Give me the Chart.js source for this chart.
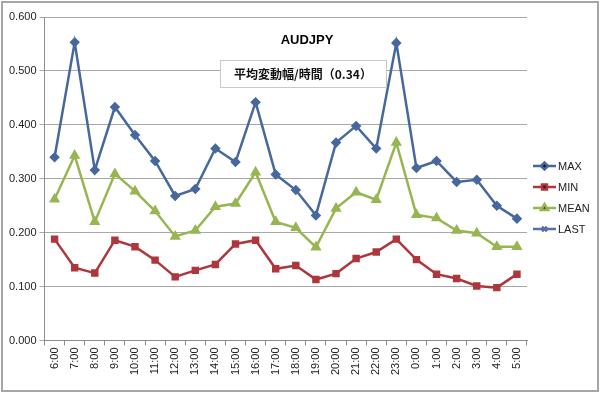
<!DOCTYPE html>
<html>
<head>
<meta charset="utf-8">
<script src="https://cdn.jsdelivr.net/npm/chart.js@4/dist/chart.umd.min.js"></script>
<style>
  html, body { margin: 0; padding: 0; background: #fff; }
  #wrap { width: 600px; height: 394px; }
</style>
</head>
<body>
<div id="wrap"><canvas id="chart" width="600" height="394"></canvas></div>
<script>
const hours = ["6:00", "7:00", "8:00", "9:00", "10:00", "11:00", "12:00", "13:00", "14:00", "15:00", "16:00", "17:00",
  "18:00", "19:00", "20:00", "21:00", "22:00", "23:00", "0:00", "1:00", "2:00", "3:00", "4:00", "5:00"];

const maxValues = [0.340, 0.553, 0.316, 0.433, 0.381, 0.333, 0.268, 0.281, 0.356, 0.331, 0.442, 0.308,
  0.279, 0.232, 0.367, 0.398, 0.356, 0.552, 0.320, 0.333, 0.294, 0.298, 0.250, 0.226];
const minValues = [0.188, 0.135, 0.125, 0.186, 0.174, 0.149, 0.118, 0.130, 0.141, 0.179, 0.186, 0.133,
  0.139, 0.113, 0.124, 0.152, 0.164, 0.188, 0.150, 0.123, 0.115, 0.101, 0.098, 0.123];
const meanValues = [0.262, 0.343, 0.220, 0.309, 0.277, 0.240, 0.193, 0.204, 0.248, 0.254, 0.312, 0.220,
  0.209, 0.173, 0.245, 0.275, 0.261, 0.367, 0.233, 0.227, 0.204, 0.199, 0.174, 0.174];
const lastValues = []; // 凡例のみ

const chartTitle = "AUDJPY";
const subTitle = "平均変動幅/時間（0.34）";

const font = "'Liberation Sans', Arial, sans-serif";
const jpFont = "'Noto Sans CJK JP', sans-serif";

const colors = {
  max: "#46689c",
  min: "#ad373d",
  mean: "#97b651",
  last: "#5a6fa8"
};

function makeSeries(label, data, color, style, radius) {
  return {
    label: label,
    data: data,
    borderColor: color,
    backgroundColor: color,
    borderWidth: 2.5,
    pointStyle: style,
    pointRadius: radius,
    pointHoverRadius: radius,
    tension: 0,
    fill: false
  };
}

// タイトル・サブタイトル・凡例・外枠を描く
const decorPlugin = {
  id: "decor",
  beforeDraw(chart) {
    const ctx = chart.ctx;
    ctx.save();
    ctx.fillStyle = "#fff";
    ctx.fillRect(0, 0, chart.width, chart.height);
    ctx.strokeStyle = "#a6a6a6";
    ctx.lineWidth = 2;
    ctx.strokeRect(2, 2, chart.width - 4, chart.height - 5);
    ctx.restore();
  },
  afterDraw(chart) {
    const ctx = chart.ctx;
    ctx.save();
    ctx.fillStyle = "#000";
    ctx.textAlign = "center";
    ctx.textBaseline = "middle";
    ctx.font = "bold 13px " + font;
    ctx.fillText(chartTitle, 307, 40);

    ctx.fillStyle = "#fff";
    ctx.fillRect(220, 60, 166, 27);
    ctx.strokeStyle = "#c8c8c8";
    ctx.lineWidth = 1;
    ctx.strokeRect(220.5, 60.5, 166, 27);
    ctx.fillStyle = "#111";
    ctx.font = "bold 12px " + jpFont;
    ctx.fillText(subTitle, 303, 74);

    // 凡例
    const items = chart.data.datasets;
    ctx.textAlign = "left";
    ctx.font = "11px " + font;
    items.forEach((ds, i) => {
      const y = 166 + i * 21;
      ctx.strokeStyle = ds.borderColor;
      ctx.lineWidth = 2.5;
      ctx.beginPath();
      ctx.moveTo(533, y);
      ctx.lineTo(556, y);
      ctx.stroke();
      Chart.helpers.drawPoint(ctx, {
        pointStyle: ds.pointStyle,
        radius: ds.pointRadius,
        rotation: 0,
        borderWidth: ds.pointStyle === "crossRot" ? 1.5 : 1
      }, 544.5, y);
      ctx.fillStyle = "#222";
      ctx.fillText(ds.label, 558, y + 1);
    });
    ctx.restore();
  }
};

new Chart(document.getElementById("chart"), {
  type: "line",
  data: {
    labels: hours,
    datasets: [
      makeSeries("MAX", maxValues, colors.max, "rectRot", 3.5),
      makeSeries("MIN", minValues, colors.min, "rect", 3.5),
      makeSeries("MEAN", meanValues, colors.mean, "triangle", 4),
      makeSeries("LAST", lastValues, colors.last, "crossRot", 3.5)
    ]
  },
  options: {
    responsive: false,
    animation: false,
    layout: { padding: { left: 6, right: 73, top: 17, bottom: 17 } },
    plugins: {
      legend: { display: false },
      title: { display: false },
      tooltip: { enabled: false }
    },
    scales: {
      x: {
        offset: true,
        grid: {
          display: true,
          offset: true,
          drawOnChartArea: false,
          drawTicks: true,
          tickLength: 5,
          color: "#8c8c8c"
        },
        border: { color: "#8c8c8c", width: 1 },
        ticks: {
          autoSkip: false,
          maxRotation: 90,
          minRotation: 90,
          color: "#222",
          padding: 2,
          font: { family: font, size: 11 }
        }
      },
      y: {
        min: 0,
        max: 0.6,
        grid: {
          color: "#a8a8a8",
          lineWidth: 1,
          tickLength: 5
        },
        border: { color: "#8c8c8c", width: 1 },
        ticks: {
          stepSize: 0.1,
          color: "#222",
          padding: 3,
          font: { family: font, size: 11 },
          callback: (v) => Number(v).toFixed(3)
        }
      }
    }
  },
  plugins: [decorPlugin]
});
</script>
</body>
</html>
